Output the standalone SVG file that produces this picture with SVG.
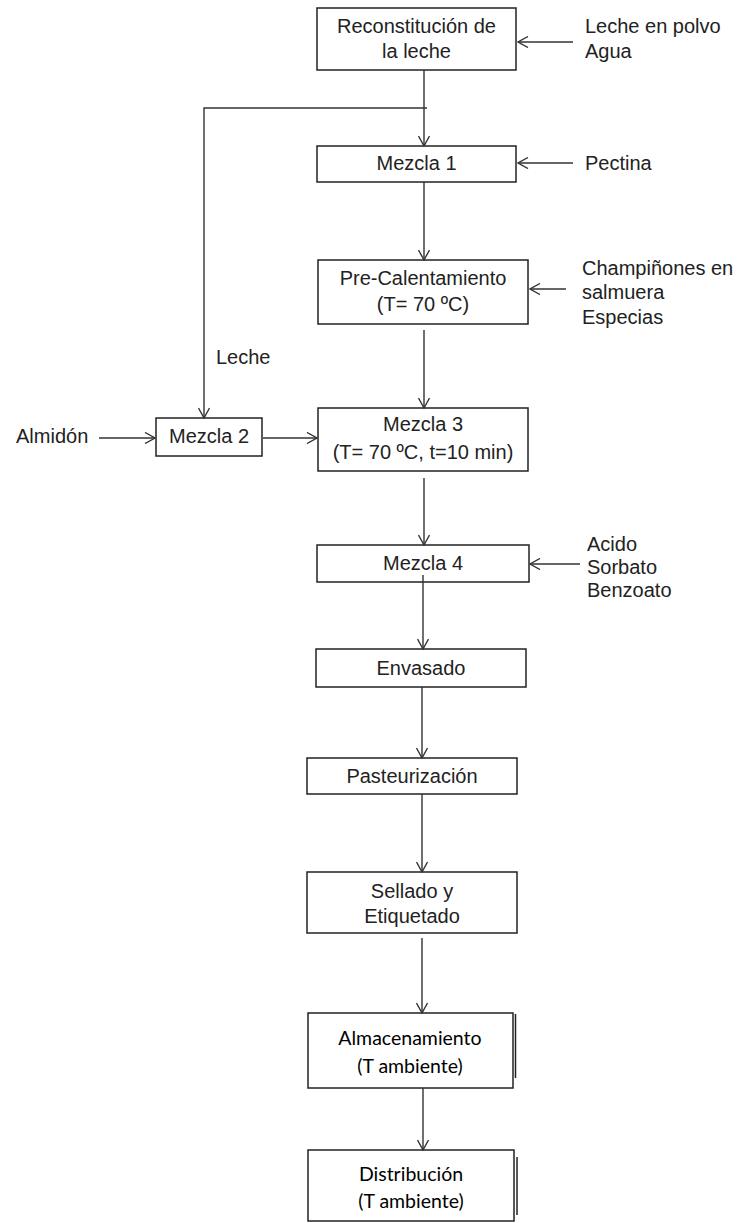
<svg xmlns="http://www.w3.org/2000/svg" width="744" height="1223" viewBox="0 0 744 1223">
<style>
.bx{fill:#fff;stroke:#222;stroke-width:1.5}
.t{font-family:"Liberation Sans",Arial,sans-serif;font-size:20px;fill:#222}
.c{text-anchor:middle}
.t2{font-family:Lato,"Open Sans",sans-serif;font-size:19.5px;fill:#000;text-anchor:middle}
.ln{fill:none;stroke:#333;stroke-width:1.4}
</style>
<defs>
<marker id="ah" markerUnits="userSpaceOnUse" viewBox="0 0 12 12" refX="11" refY="6" markerWidth="12" markerHeight="12" orient="auto">
<path d="M1,0.5 L11,6 L1,11.5" fill="none" stroke="#333" stroke-width="1.4"/>
</marker>
</defs>
<rect width="744" height="1223" fill="#fff"/>
<g id="reconstitucion"><rect class="bx" x="317" y="8" width="199" height="62"/><text class="t c" x="416.5" y="33">Reconstitución de</text><text class="t c" x="416.5" y="58">la leche</text></g>
<g id="in-leche-polvo"><text class="t" x="585" y="33">Leche en polvo</text><text class="t" x="585" y="58">Agua</text></g>
<g id="mezcla1"><rect class="bx" x="317" y="146" width="199" height="36"/><text class="t c" x="416.5" y="170">Mezcla 1</text></g>
<g id="in-pectina"><text class="t" x="585" y="170">Pectina</text></g>
<g id="precalentamiento"><rect class="bx" x="318" y="260" width="210" height="64"/><text class="t c" x="423" y="285">Pre-Calentamiento</text><text class="t c" x="423" y="311">(T= 70 ºC)</text></g>
<g id="in-champinones"><text class="t" x="582" y="275">Champiñones en</text><text class="t" x="582" y="299">salmuera</text><text class="t" x="582" y="324">Especias</text></g>
<g id="lbl-leche"><text class="t" x="216" y="364">Leche</text></g>
<g id="in-almidon"><text class="t" x="16" y="443">Almidón</text></g>
<g id="mezcla2"><rect class="bx" x="156" y="418" width="106" height="38"/><text class="t c" x="209" y="443">Mezcla 2</text></g>
<g id="mezcla3"><rect class="bx" x="318" y="408" width="210" height="63"/><text class="t c" x="423" y="431">Mezcla 3</text><text class="t c" x="423" y="459">(T= 70 ºC, t=10 min)</text></g>
<g id="mezcla4"><rect class="bx" x="317" y="545" width="212" height="37"/><text class="t c" x="423" y="570">Mezcla 4</text></g>
<g id="in-acido"><text class="t" x="587" y="551">Acido</text><text class="t" x="587" y="574">Sorbato</text><text class="t" x="587" y="597">Benzoato</text></g>
<g id="envasado"><rect class="bx" x="316" y="649" width="210" height="38"/><text class="t c" x="421" y="675">Envasado</text></g>
<g id="pasteurizacion"><rect class="bx" x="307" y="758" width="210" height="36"/><text class="t c" x="412" y="783">Pasteurización</text></g>
<g id="sellado"><rect class="bx" x="307" y="872" width="210" height="61"/><text class="t c" x="412" y="898">Sellado y</text><text class="t c" x="412" y="923">Etiquetado</text></g>
<g id="almacenamiento"><rect class="bx" x="308" y="1013" width="205" height="75" stroke-width="2"/><line x1="515.5" y1="1014" x2="515.5" y2="1078" stroke="#222" stroke-width="1.5"/><text class="t2" x="410" y="1045">Almacenamiento</text><text class="t2" x="410" y="1073">(T ambiente)</text></g>
<g id="distribucion"><rect class="bx" x="308" y="1150" width="206" height="71" stroke-width="2"/><line x1="517" y1="1157" x2="517" y2="1215" stroke="#222" stroke-width="1.5"/><text class="t2" x="411" y="1181">Distribución</text><text class="t2" x="411" y="1208">(T ambiente)</text></g>
<g id="connectors" class="ln" marker-end="url(#ah)">
<line x1="573" y1="42" x2="518" y2="42"/>
<line x1="424" y1="70" x2="424" y2="146"/>
<path d="M427,108 H204 V418"/>
<line x1="573" y1="163" x2="518" y2="163"/>
<line x1="424" y1="182" x2="424" y2="260"/>
<line x1="566" y1="289" x2="530" y2="289"/>
<line x1="424" y1="330" x2="424" y2="408"/>
<line x1="99" y1="438" x2="155" y2="438"/>
<line x1="263" y1="438" x2="317" y2="438"/>
<line x1="424" y1="478" x2="424" y2="545"/>
<line x1="580" y1="564" x2="530" y2="564"/>
<line x1="423" y1="575" x2="423" y2="649"/>
<line x1="422" y1="687" x2="422" y2="758"/>
<line x1="422" y1="794" x2="422" y2="872"/>
<line x1="422" y1="938" x2="422" y2="1013"/>
<line x1="423" y1="1088" x2="423" y2="1150"/>
</g>
</svg>
